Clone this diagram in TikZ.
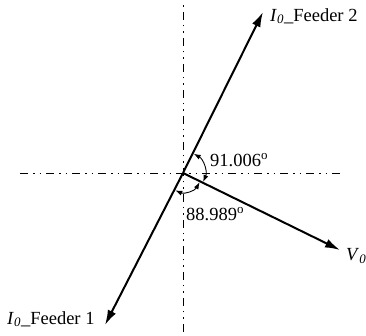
\documentclass[tikz,border=0pt]{standalone}
\usepackage{fontspec}
\setmainfont{Liberation Serif}
\usetikzlibrary{arrows.meta}
\begin{document}
\begin{tikzpicture}[x=1pt,y=1pt,
  axisline/.style={line width=0.9pt,dash pattern=on 8pt off 5pt on 1.5pt off 5pt on 1.5pt off 5pt},
  phasor/.style={line width=2pt,-{Latex[length=15pt,width=9pt]}},
  anglearc/.style={line width=0.9pt,{Latex[length=7pt,width=5pt]}-{Latex[length=7pt,width=5pt]}},
  lbl/.style={font=\fontsize{18.5}{22}\selectfont,inner sep=0pt}]
\useasboundingbox (0,0) rectangle (366,336);
% axes
\coordinate (O) at (183,163);
\coordinate (vtop) at (183,332);
\coordinate (vbot) at (183,4);
\coordinate (hl) at (20,163);
\coordinate (hr) at (343,163);
\draw[axisline] (vbot) -- (vtop);
\draw[axisline] (hl) -- (hr);
% phasors
\coordinate (F2) at (263,324);
\coordinate (F1) at (105,11);
\coordinate (V0) at (340,86);
\draw[phasor] (O) -- (F2);
\draw[phasor] (O) -- (F1);
\draw[phasor] (O) -- (V0);
% angle arcs
\draw[anglearc] ([shift={(61:22)}]O) arc[start angle=61,end angle=-24,radius=22];
\draw[anglearc] ([shift={(-29:19)}]O) arc[start angle=-29,end angle=-114,radius=19];
% labels
\node[lbl,anchor=west] (lF2) at (270,320) {\textit{I}\textsubscript{\textit{0}}\_Feeder 2};
\node[lbl,anchor=west] (lF1) at (7,17) {\textit{I}\textsubscript{\textit{0}}\_Feeder 1};
\node[lbl,anchor=west] (lV0) at (346,80) {\textit{V}\textsubscript{\textit{0}}};
\node[lbl,anchor=west] (la1) at (210,176) {91.006\textsuperscript{o}};
\node[lbl,anchor=west] (la2) at (186,122) {88.989\textsuperscript{o}};
\end{tikzpicture}
\end{document}
